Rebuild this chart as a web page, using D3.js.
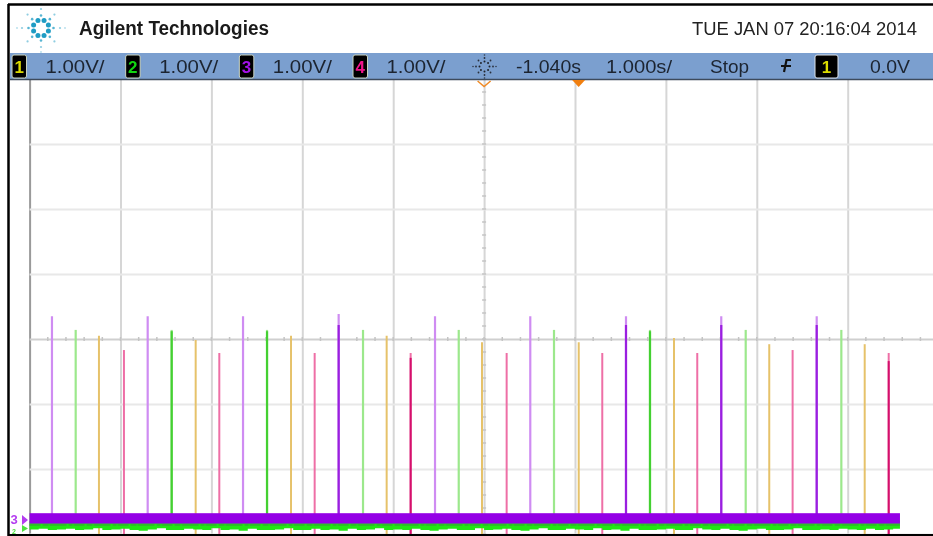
<!DOCTYPE html>
<html>
<head>
<meta charset="utf-8">
<script src="https://cdnjs.cloudflare.com/ajax/libs/d3/7.8.5/d3.min.js"></script>
<style>
html, body { margin: 0; padding: 0; background: #fff; }
svg { display: block; }
text { font-family: "Liberation Sans", Arial, sans-serif; }
</style>
</head>
<body>
<svg id="scope" width="933" height="536"></svg>
<script>
// pulse times (s) and tops (V from screen centre)
const purpleTimes = [-5.794, -4.741, -3.692, -2.640, -1.580, -0.532, 0.521, 1.569, 2.619];
const purpleTops = [0.35, 0.35, 0.35, 0.385, 0.35, 0.35, 0.35, 0.35, 0.35];
const purpleDense = [null, null, null, 0.215, null, null, 0.215, 0.215, 0.215];

const greenTimes = [-5.533, -4.477, -3.428, -2.372, -1.319, -0.271, 0.785, 1.838, 2.890];
const greenTops = [0.14, 0.14, 0.14, 0.14, 0.14, 0.14, 0.14, 0.14, 0.14];
const greenDense = [null, 0.12, 0.12, null, null, null, 0.12, null, null];

const yellowTimes = [-5.277, -4.213, -3.164, -2.112, -1.063, 0.001, 1.049, 2.097, 3.147];
const yellowTops = [0.05, -0.015, 0.05, 0.05, -0.05, -0.05, 0.015, -0.08, -0.08];

const pinkTimes = [-5.002, -3.953, -2.904, -1.848, -0.792, 0.260, 1.305, 2.354, 3.411];
const pinkTops = [-0.17, -0.215, -0.215, -0.215, -0.215, -0.215, -0.215, -0.17, -0.215];
const pinkDense = [null, null, null, -0.29, null, null, null, null, -0.34];

// lower edge of the green noise band, sampled every 0.1 s from the left edge
const greenNoiseLow = [-2.93, -2.92, -2.94, -2.93, -2.92, -2.94, -2.93, -2.91, -2.94, -2.93,
  -2.92, -2.94, -2.95, -2.93, -2.91, -2.94, -2.94, -2.92, -2.93, -2.94,
  -2.91, -2.94, -2.93, -2.95, -2.92, -2.94, -2.94, -2.93, -2.91, -2.94,
  -2.94, -2.92, -2.94, -2.93, -2.95, -2.92, -2.94, -2.93, -2.91, -2.94,
  -2.93, -2.94, -2.92, -2.94, -2.95, -2.93, -2.92, -2.94, -2.94, -2.91,
  -2.94, -2.93, -2.92, -2.94, -2.95, -2.93, -2.91, -2.94, -2.94, -2.92,
  -2.93, -2.94, -2.91, -2.94, -2.93, -2.95, -2.92, -2.94, -2.94, -2.93,
  -2.92, -2.94, -2.94, -2.91, -2.93, -2.94, -2.92, -2.94, -2.95, -2.93,
  -2.92, -2.94, -2.94, -2.93, -2.91, -2.94, -2.94, -2.93, -2.94, -2.92,
  -2.93, -2.94, -2.92, -2.94, -2.93, -2.92, -2.94, -2.93];

const timeGrid = [-6.04, -5.04, -4.04, -3.04, -2.04, -1.04, -0.04, 0.96, 1.96, 2.96];
const voltGrid = [3, 2, 1, 0, -1, -2, -3];
const channelScales = ["1.00V/", "1.00V/", "1.00V/", "1.00V/"];
const channelNames = ["1", "2", "3", "4"];
const channelColors = ["#dcdc00", "#12d612", "#a312e8", "#f0148c"];
const delayLabel = "-1.040s";
const timebaseLabel = "1.000s/";
const runLabel = "Stop";
const trigLevel = "0.0V";
const dateLabel = "TUE JAN 07 20:16:04 2014";
const brandLabel = "Agilent Technologies";
const traceEnd = 3.535;

const svg = d3.select("#scope");
const x = d3.scaleLinear().domain([-6.04, 3.96]).range([29.6, 938.6]);
const y = d3.scaleLinear().domain([-3, 4]).range([534, 79]);

// the reference is a scaled screenshot, everything is a bit soft
const screenG = svg.append("g").style("filter", "blur(0.5px)");

// graticule
const grid = screenG.append("g");
const xGrid = d3.axisBottom(x).tickValues(timeGrid).tickSize(-455).tickFormat("");
grid.append("g").attr("transform", `translate(0,${y(-3)})`).call(xGrid)
    .call(g => g.select(".domain").remove())
    .selectAll("line").attr("stroke", (d, i) => i == 0 ? "#9a9a9a" : "#d6d6d6").attr("stroke-width", 2);

const yGrid = d3.axisLeft(y).tickValues(voltGrid).tickSize(-909).tickFormat("");
grid.append("g").attr("transform", `translate(${x(-6.04)},0)`).call(yGrid)
    .call(g => g.select(".domain").remove())
    .selectAll("line").attr("stroke", d => d == 0 ? "#cfcfcf" : "#e8e8e8").attr("stroke-width", 2);

// minor ticks on the centre lines, 0.2 s and 0.2 V apart
grid.selectAll(".xminor")
    .data(d3.range(-30, 25).map(d => d * 0.2 - 0.04).filter(d => d > -6.04))
    .join("line")
    .attr("x1", d => x(d)).attr("x2", d => x(d))
    .attr("y1", y(0) - 2).attr("y2", y(0) + 2)
    .attr("stroke", "#c4c4c4").attr("stroke-width", 1.5);
grid.selectAll(".yminor")
    .data(d3.range(-15, 20).map(d => d * 0.2))
    .join("line")
    .attr("x1", x(-1.04) - 2).attr("x2", x(-1.04) + 2)
    .attr("y1", d => y(d)).attr("y2", d => y(d))
    .attr("stroke", "#c4c4c4").attr("stroke-width", 1.5);

// pulses
function drawPulses(times, tops, dense, base, pale, strong, w) {
    const g = screenG.append("g");
    g.selectAll("line.pale").data(times).join("line").attr("class", "pale")
        .attr("x1", d => x(d)).attr("x2", d => x(d))
        .attr("y1", (d, i) => y(tops[i])).attr("y2", y(base))
        .attr("stroke", pale).attr("stroke-width", w);
    if (!dense) return;
    const rows = times.map((t, i) => ({ t: t, top: dense[i] })).filter(d => d.top != null);
    g.selectAll("line.strong").data(rows).join("line").attr("class", "strong")
        .attr("x1", d => x(d.t)).attr("x2", d => x(d.t))
        .attr("y1", d => y(d.top)).attr("y2", y(base))
        .attr("stroke", strong).attr("stroke-width", w);
}
drawPulses(yellowTimes, yellowTops, null, -3, "#e6c26a", null, 2);
drawPulses(pinkTimes, pinkTops, pinkDense, -3, "#ee6fa6", "#d40f6c", 2);
drawPulses(greenTimes, greenTops, greenDense, -2.9, "#9ce88c", "#44d032", 2.2);
drawPulses(purpleTimes, purpleTops, purpleDense, -2.85, "#cf8cf2", "#9a1fe0", 2.2);

// ground traces
const greenArea = d3.area()
    .x((d, i) => Math.min(x(-6.04 + i * 0.1), x(traceEnd)))
    .y0(d => y(d))
    .y1(y(-2.8))
    .curve(d3.curveStepAfter);
screenG.append("path").datum(greenNoiseLow).attr("d", greenArea).attr("fill", "#22e614");
screenG.append("line")
    .attr("x1", x(-6.04)).attr("x2", x(traceEnd))
    .attr("y1", y(-2.86)).attr("y2", y(-2.86))
    .attr("stroke", "#35b030").attr("stroke-width", 1.5).attr("stroke-dasharray", "11 2 6 1 17 2 4 1");
screenG.append("rect")
    .attr("x", x(-6.04)).attr("width", x(traceEnd) - x(-6.04))
    .attr("y", y(-2.68)).attr("height", y(-2.84) - y(-2.68))
    .attr("fill", "#9400e6");

// ground markers on the left edge
svg.append("text").attr("x", 10.5).attr("y", 524).attr("font-size", 13).attr("font-weight", "bold").attr("fill", "#b43cf0").text(channelNames[2]);
svg.append("path").attr("d", "M22,515L28,520L22,525Z").attr("fill", "#b43cf0");
svg.append("text").attr("x", 12).attr("y", 534).attr("font-size", 7).attr("font-weight", "bold").attr("fill", "#4fe23f").text(channelNames[1]);
svg.append("path").attr("d", "M22,525L28,528.5L22,532Z").attr("fill", "#4fe23f");

// header + control bar
svg.append("rect").attr("x", 10).attr("y", 53).attr("width", 923).attr("height", 26).attr("fill", "#7b9fcf");
svg.append("line").attr("x1", 10).attr("x2", 933).attr("y1", 79.5).attr("y2", 79.5).attr("stroke", "#3d4a5c").attr("stroke-width", 1.5);

const soft = svg.append("g").style("filter", "blur(0.45px)");

function spark(cx, cy, rings, color) {
    rings.forEach(r => {
        soft.append("g").selectAll("circle")
            .data(d3.range(r.n))
            .join("circle")
            .attr("cx", d => cx + r.rad * Math.cos((d + r.off) / r.n * 2 * Math.PI))
            .attr("cy", d => cy + r.rad * Math.sin((d + r.off) / r.n * 2 * Math.PI))
            .attr("r", r.size)
            .attr("fill", color)
            .attr("opacity", r.op);
    });
}
spark(41, 28, [
    { n: 8, off: 0.5, rad: 8, size: 2.5, op: 1 },
    { n: 8, off: 0, rad: 12.5, size: 1.3, op: 0.75 },
    { n: 8, off: 0, rad: 19, size: 1.1, op: 0.5 },
    { n: 4, off: 0, rad: 24, size: 0.9, op: 0.35 }
], "#1f9cc4");
spark(484.5, 66.5, [
    { n: 8, off: 0, rad: 5, size: 1, op: 1 },
    { n: 8, off: 0, rad: 8.5, size: 0.9, op: 0.9 },
    { n: 4, off: 0, rad: 11.5, size: 0.8, op: 0.8 }
], "#20242c");

soft.append("text").attr("x", 79).attr("y", 34.5).attr("font-size", 20).attr("font-weight", "bold")
    .attr("textLength", 190).attr("lengthAdjust", "spacingAndGlyphs").attr("fill", "#1a1a1a").text(brandLabel);
soft.append("text").attr("x", 692).attr("y", 35).attr("font-size", 18)
    .attr("textLength", 225).attr("lengthAdjust", "spacingAndGlyphs").attr("fill", "#222").text(dateLabel);

const chanX = d3.scaleLinear().domain([0, 3]).range([12, 353]);
const badges = soft.append("g").selectAll("g").data(channelNames).join("g")
    .attr("transform", (d, i) => `translate(${chanX(i)},0)`);
badges.append("rect").attr("x", 0).attr("y", 55).attr("width", 14.5).attr("height", 23).attr("rx", 2)
    .attr("fill", "#000").attr("stroke", "#c9d3c0").attr("stroke-width", 1);
badges.append("text").attr("x", 7.2).attr("y", 72.5).attr("text-anchor", "middle").attr("font-size", 17).attr("font-weight", "bold")
    .attr("fill", (d, i) => channelColors[i]).text(d => d);
badges.append("text").data(channelScales).attr("x", 33.5).attr("y", 72.5).attr("font-size", 18)
    .attr("textLength", 59).attr("lengthAdjust", "spacingAndGlyphs").attr("fill", "#1c2430").text(d => d);

const barText = [[516, 65, delayLabel], [606, 66, timebaseLabel], [710, 39, runLabel], [870, 40, trigLevel]];
soft.selectAll(".bartext").data(barText).join("text")
    .attr("x", d => d[0]).attr("y", 72.5).attr("font-size", 18)
    .attr("textLength", d => d[1]).attr("lengthAdjust", "spacingAndGlyphs").attr("fill", "#1c2430").text(d => d[2]);

// falling edge trigger symbol
soft.append("path").attr("d", "M791,60L786.5,60L784,72 M781,66L791,66").attr("fill", "none").attr("stroke", "#111").attr("stroke-width", 2.2);

soft.append("rect").attr("x", 815).attr("y", 55).attr("width", 23).attr("height", 23).attr("rx", 2)
    .attr("fill", "#000").attr("stroke", "#dde3ea").attr("stroke-width", 1);
soft.append("text").attr("x", 826.5).attr("y", 72.5).attr("text-anchor", "middle").attr("font-size", 17).attr("font-weight", "bold")
    .attr("fill", channelColors[0]).text(channelNames[0]);

// trigger + delay markers
svg.append("path").attr("d", `M${x(-1.04) - 6.5},81L${x(-1.04)},86.5L${x(-1.04) + 6.5},81`).attr("fill", "none").attr("stroke", "#f08a24").attr("stroke-width", 1.5);
svg.append("path").attr("d", `M${x(0) - 6.5},80L${x(0) + 6.5},80L${x(0)},87Z`).attr("fill", "#f07f10");

// outer frame
svg.append("line").attr("x1", 8).attr("x2", 933).attr("y1", 4.5).attr("y2", 4.5).attr("stroke", "#000").attr("stroke-width", 2.5);
svg.append("line").attr("x1", 8.5).attr("x2", 8.5).attr("y1", 4).attr("y2", 536).attr("stroke", "#000").attr("stroke-width", 2.5);
svg.append("line").attr("x1", 8).attr("x2", 933).attr("y1", 535).attr("y2", 535).attr("stroke", "#000").attr("stroke-width", 2);
</script>
</body>
</html>
